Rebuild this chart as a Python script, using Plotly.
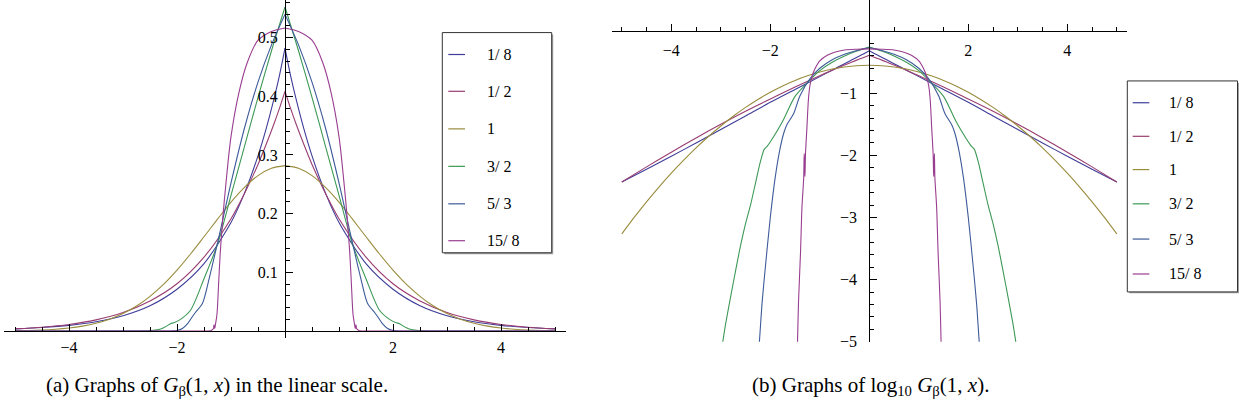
import numpy as np
import plotly.graph_objects as go

W, H = 1239, 419

beta_labels = ["1/ 8", "1/ 2", "1", "3/ 2", "5/ 3", "15/ 8"]
line_colors = ["#3F3D99", "#993D71", "#998C3D", "#3D9956", "#3D5A99", "#993D90"]

# Half-axis (x >= 0) readings of log10 G_beta(1, x); the curves are symmetric in x.
x_b18 = [0, 0.1, 0.2, 0.35, 0.5, 0.75, 1, 1.5, 2, 2.5, 3, 3.5, 4, 4.5, 5]
lg_b18 = [-0.317, -0.360, -0.401, -0.463, -0.525, -0.629, -0.733, -0.940, -1.147,
          -1.365, -1.583, -1.800, -2.015, -2.222, -2.428]

x_b12 = [0, 0.1, 0.2, 0.35, 0.5, 0.75, 1, 1.5, 2, 2.5, 3, 3.5, 4, 4.5, 5]
lg_b12 = [-0.389, -0.420, -0.451, -0.498, -0.547, -0.630, -0.718, -0.900, -1.094,
          -1.290, -1.500, -1.720, -1.950, -2.185, -2.428]

x_b1 = [0, 0.25, 0.5, 0.75, 1, 1.25, 1.5, 1.75, 2, 2.25, 2.5, 2.75, 3, 3.25, 3.5,
        3.75, 4, 4.25, 4.5, 4.75, 5]
lg_b1 = [-0.550, -0.557, -0.577, -0.611, -0.658, -0.720, -0.794, -0.882, -0.984,
         -1.100, -1.228, -1.371, -1.527, -1.697, -1.880, -2.077, -2.287, -2.511,
         -2.748, -2.999, -3.264]

x_b32 = [0, 0.25, 0.5, 0.75, 1.0, 1.25, 1.5, 1.75, 1.95, 2.06, 2.12, 2.2, 2.3, 2.4,
         2.5, 2.6, 2.7, 2.8, 2.9, 2.96, 3.05, 3.5, 5]
lg_b32 = [-0.258, -0.321, -0.400, -0.502, -0.636, -0.830, -1.050, -1.450, -1.720,
          -1.850, -1.900, -2.100, -2.450, -2.800, -3.100, -3.450, -3.850, -4.270,
          -4.700, -5.000, -5.450, -8, -30]

x_b53 = [0, 0.25, 0.5, 0.75, 1.0, 1.2, 1.4, 1.53, 1.66, 1.72, 1.8, 1.9, 2.0, 2.1,
         2.17, 2.22, 2.3, 2.6, 5]
lg_b53 = [-0.268, -0.312, -0.3725, -0.461, -0.598, -0.769, -1.040, -1.330, -1.500,
          -1.620, -1.880, -2.350, -3.000, -3.800, -4.410, -5.000, -5.800, -9, -40]

x_b158 = [0, 0.25, 0.5, 0.7, 0.85, 1.0, 1.1, 1.15, 1.2, 1.23, 1.26, 1.29, 1.30,
          1.315, 1.325, 1.36, 1.39, 1.43, 1.45, 1.47, 1.7, 5]
lg_b158 = [-0.287, -0.292, -0.305, -0.340, -0.390, -0.480, -0.610, -0.710, -0.880,
           -1.100, -1.550, -1.990, -2.340, -1.970, -2.360, -2.830, -3.570, -4.360,
           -5.000, -5.600, -9, -40]

series = [(x_b18, lg_b18), (x_b12, lg_b12), (x_b1, lg_b1),
          (x_b32, lg_b32), (x_b53, lg_b53), (x_b158, lg_b158)]


def fx(px):
    return px / W


def fy(py):
    return 1 - py / H


fig = go.Figure()
for (xh, lh), name, col in zip(series, beta_labels, line_colors):
    xh = np.asarray(xh, float)
    lh = np.asarray(lh, float)
    for sign in (-1, 1):           # the two symmetric halves, cusp kept sharp at x = 0
        fig.add_trace(go.Scatter(x=sign * xh, y=10 ** lh, mode="lines", name=name,
                                 line=dict(color=col, width=1.1, shape="spline",
                                           smoothing=0.8),
                                 xaxis="x", yaxis="y", showlegend=False))
        fig.add_trace(go.Scatter(x=sign * xh, y=lh, mode="lines", name=name,
                                 line=dict(color=col, width=1.1, shape="spline",
                                           smoothing=0.8),
                                 xaxis="x2", yaxis="y2", showlegend=False))

tick_font = dict(family="Liberation Serif", size=16, color="black")
minor_x = [v for v in np.arange(-5.0, 5.01, 0.5) if abs(v % 2) > 1e-9]

common_x = dict(range=[-5.2, 5.2], showgrid=False, zeroline=False, showline=True,
                linecolor="black", linewidth=1, ticks="inside", ticklen=7,
                tickwidth=1, tickcolor="black", tickfont=tick_font,
                tickvals=[-4, -2, 2, 4], ticktext=["\u22124", "\u22122", "2", "4"],
                minor=dict(tickmode="array", tickvals=minor_x, ticks="inside",
                           ticklen=4, tickwidth=1, tickcolor="black"),
                anchor="free", fixedrange=True)

minor_y1 = [round(v, 3) for v in np.arange(0.02, 0.561, 0.02)
            if abs(round(v * 10) - v * 10) > 1e-6]
minor_y2 = [round(v, 3) for v in np.arange(-5.0, 0.01, 0.2)
            if abs(round(v) - v) > 1e-6]

fig.update_layout(
    width=W, height=H,
    margin=dict(l=0, r=0, t=0, b=0),
    paper_bgcolor="white", plot_bgcolor="rgba(0,0,0,0)",
    xaxis=dict(common_x, domain=[fx(4.2), fx(565.8)], position=fy(338.3),
               ticklabelstandoff=2),
    yaxis=dict(range=[-0.0125, 0.564], domain=[fy(345.8), 1.0], anchor="free",
               position=fx(285), showgrid=False, zeroline=False, showline=True,
               linecolor="black", linewidth=1, ticks="inside", ticklen=7,
               tickwidth=1, tickcolor="black", tickfont=tick_font,
               tickvals=[0.1, 0.2, 0.3, 0.4, 0.5],
               ticktext=["0.1", "0.2", "0.3", "0.4", "0.5"],
               minor=dict(tickmode="array", tickvals=minor_y1, ticks="inside",
                          ticklen=4, tickwidth=1, tickcolor="black"),
               ticklabelstandoff=4, fixedrange=True),
    xaxis2=dict(common_x, domain=[fx(611.9), fx(1126.7)], position=fy(31.7),
                ticklabelstandoff=5),
    yaxis2=dict(range=[-5.0, 0.5], domain=[fy(349.3), 1.0], anchor="free",
                position=fx(869.3), showgrid=False, zeroline=False, showline=True,
                linecolor="black", linewidth=1, ticks="inside", ticklen=7,
                tickwidth=1, tickcolor="black", tickfont=tick_font,
                tickvals=[-1, -2, -3, -4, -5],
                ticktext=["\u22121", "\u22122", "\u22123", "\u22124", "\u22125"],
                minor=dict(tickmode="array", tickvals=minor_y2, ticks="inside",
                           ticklen=4, tickwidth=1, tickcolor="black"),
                ticklabelstandoff=9, fixedrange=True),
)

# Legends (boxes with line samples and real text)
legend_boxes = [
    dict(x0=442.3, x1=551.7, y0=33.3, y1=258.3, lx0=448.3, lx1=465.0, tx=485.0,
         rows=[55.7, 93.3, 131.7, 170.0, 208.3, 246.0]),
    dict(x0=1127.3, x1=1237.5, y0=82.7, y1=298.3, lx0=1132.7, lx1=1149.3, tx=1166.7,
         rows=[105.0, 139.3, 173.3, 208.3, 244.3, 280.0]),
]
shapes = []
annotations = []
for lb in legend_boxes:
    shapes.append(dict(type="rect", xref="paper", yref="paper",
                       x0=fx(lb["x0"] + 2), x1=fx(min(lb["x1"] + 1.5, W)),
                       y0=fy(lb["y1"] + 1.5), y1=fy(lb["y0"] + 2),
                       line=dict(width=0), fillcolor="#a0a0a0", layer="above"))
    shapes.append(dict(type="rect", xref="paper", yref="paper",
                       x0=fx(lb["x0"]), x1=fx(lb["x1"]), y0=fy(lb["y1"]), y1=fy(lb["y0"]),
                       line=dict(color="#333333", width=1), fillcolor="white",
                       layer="above"))
    for yy, name, col in zip(lb["rows"], beta_labels, line_colors):
        shapes.append(dict(type="line", xref="paper", yref="paper",
                           x0=fx(lb["lx0"]), x1=fx(lb["lx1"]), y0=fy(yy), y1=fy(yy),
                           line=dict(color=col, width=1.2), layer="above"))
        annotations.append(dict(xref="paper", yref="paper", x=fx(lb["tx"]), y=fy(yy),
                                xanchor="left", yanchor="middle", showarrow=False,
                                text=name, font=dict(family="Liberation Serif",
                                                     size=16, color="black")))

cap_font = dict(family="Liberation Serif", size=21, color="black")
annotations.append(dict(xref="paper", yref="paper", x=fx(44), y=fy(394),
                        xanchor="left", yanchor="middle", showarrow=False,
                        text="(a) Graphs of <i>G</i><sub>\u03b2</sub>(1, <i>x</i>) in the linear scale.",
                        font=cap_font))
annotations.append(dict(xref="paper", yref="paper", x=fx(750), y=fy(394),
                        xanchor="left", yanchor="middle", showarrow=False,
                        text="(b) Graphs of log<sub>10</sub> <i>G</i><sub>\u03b2</sub>(1, <i>x</i>).",
                        font=cap_font))

fig.update_layout(shapes=shapes, annotations=annotations)
fig.write_html("out.html",
               config={"displayModeBar": False, "staticPlot": True},
               post_script="document.body.style.margin='0px';"
                           "document.body.style.overflow='hidden';")
